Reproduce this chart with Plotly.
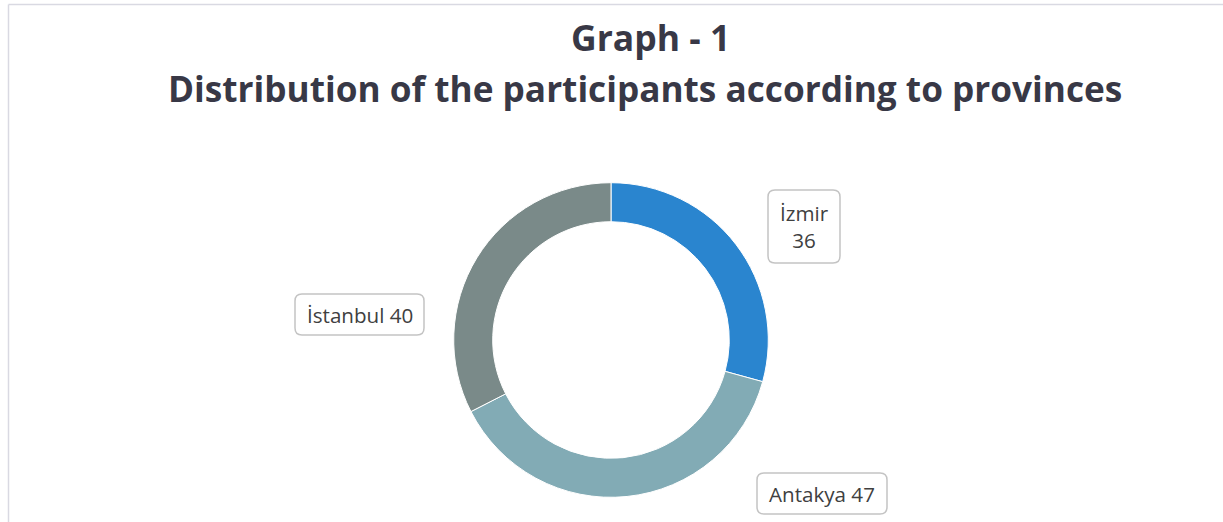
import plotly.graph_objects as go

# ---- data ----
provinces = ["İzmir", "Antakya", "İstanbul"]
participants = [36, 47, 40]
slice_colors = ["#2a85cf", "#82abb5", "#7a8a89"]
title_lines = ["Graph - 1", "Distribution of the participants according to provinces"]

W, H = 1223, 522

def px(x):
    return x / W

def py(y):
    return 1 - y / H

def rounded_box(x0, y0, x1, y1, r=7):
    pts = [
        f"M {px(x0 + r)},{py(y0)}",
        f"L {px(x1 - r)},{py(y0)}",
        f"Q {px(x1)},{py(y0)} {px(x1)},{py(y0 + r)}",
        f"L {px(x1)},{py(y1 - r)}",
        f"Q {px(x1)},{py(y1)} {px(x1 - r)},{py(y1)}",
        f"L {px(x0 + r)},{py(y1)}",
        f"Q {px(x0)},{py(y1)} {px(x0)},{py(y1 - r)}",
        f"L {px(x0)},{py(y0 + r)}",
        f"Q {px(x0)},{py(y0)} {px(x0 + r)},{py(y0)}",
        "Z",
    ]
    return dict(type="path", xref="paper", yref="paper", path=" ".join(pts),
                line=dict(color="#c4c4c4", width=1.5), fillcolor="white", layer="above")

cx, cy, R = 611, 340, 157.3

fig = go.Figure(go.Pie(
    labels=provinces,
    values=participants,
    sort=False,
    direction="clockwise",
    rotation=0,
    hole=0.752,
    marker=dict(colors=slice_colors, line=dict(color="white", width=1)),
    textinfo="none",
    showlegend=False,
    domain=dict(x=[px(cx - R), px(cx + R)], y=[py(cy + R), py(cy - R)]),
))

# label boxes (positions only; text from data)
boxes = {
    "İzmir": (768, 190, 840, 263),
    "Antakya": (757, 473, 887, 514),
    "İstanbul": (295, 294, 424, 335),
}
shapes = [
    dict(type="line", xref="paper", yref="paper", x0=px(8.5), x1=1, y0=py(4.5), y1=py(4.5),
         line=dict(color="#d9d9e2", width=1.5)),
    dict(type="line", xref="paper", yref="paper", x0=px(8.5), x1=px(8.5), y0=0, y1=py(4.5),
         line=dict(color="#d9d9e2", width=1.5)),
]
annotations = []
lab_font = dict(family="'Open Sans', sans-serif", size=20.6, color="#404040")
for name, val in zip(provinces, participants):
    x0, y0, x1, y1 = boxes[name]
    shapes.append(rounded_box(x0, y0, x1, y1))
    if name == "İzmir":
        text = f"{name}<br>{val}"
    else:
        text = f"{name} {val}"
    annotations.append(dict(x=px((x0 + x1) / 2), y=py((y0 + y1) / 2), xref="paper", yref="paper",
                            text=text, showarrow=False, font=lab_font,
                            xanchor="center", yanchor="middle", align="center"))

title_font = dict(family="'Open Sans', sans-serif", color="#383846")
annotations.append(dict(x=px(650), y=py(37), xref="paper", yref="paper", text=f"<b>{title_lines[0]}</b>",
                        showarrow=False, font=dict(size=35.5, **title_font), xanchor="center", yanchor="middle"))
annotations.append(dict(x=px(645), y=py(88), xref="paper", yref="paper", text=f"<b>{title_lines[1]}</b>",
                        showarrow=False, font=dict(size=35.2, **title_font), xanchor="center", yanchor="middle"))

fig.update_layout(
    width=W, height=H,
    margin=dict(l=0, r=0, t=0, b=0),
    paper_bgcolor="white",
    plot_bgcolor="white",
    shapes=shapes,
    annotations=annotations,
)

fig.write_html("out.html", config={"displayModeBar": False},
               post_script="document.body.style.margin='0';document.body.style.overflow='hidden';")
